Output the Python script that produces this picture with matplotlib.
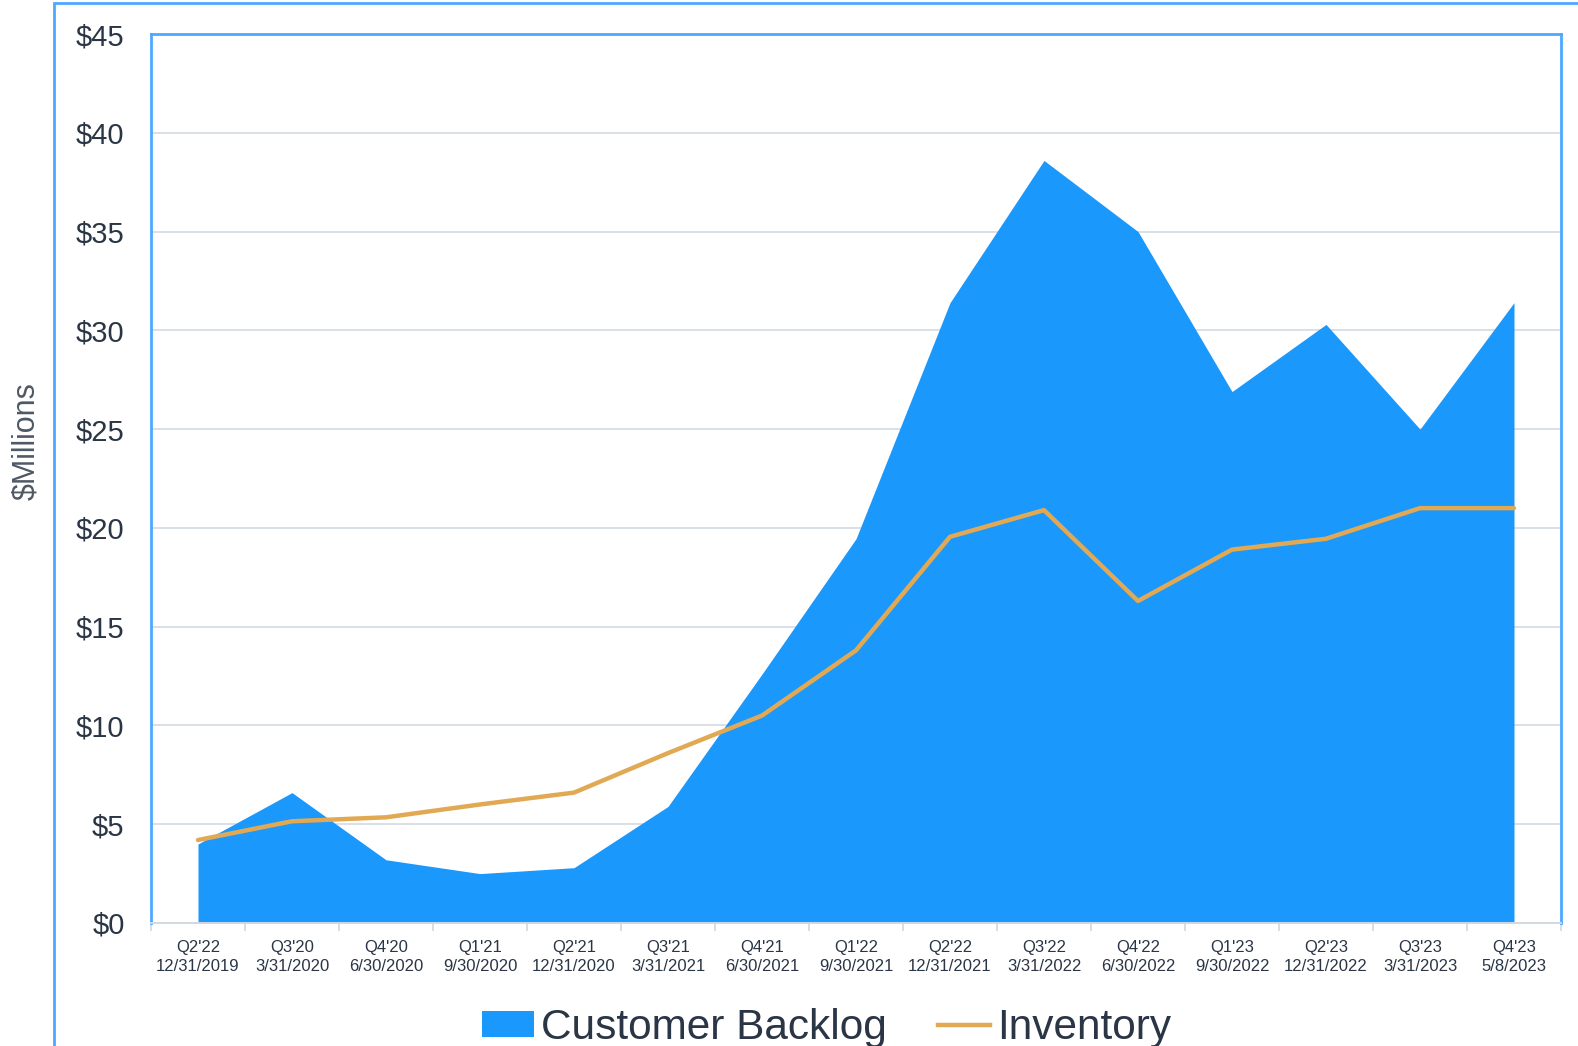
import matplotlib
matplotlib.use("Agg")
import matplotlib.pyplot as plt
from matplotlib.patches import Rectangle, Patch
from matplotlib.lines import Line2D

plt.rcParams['font.family'] = ['Liberation Sans', 'DejaVu Sans']

quarters = ["Q2'22", "Q3'20", "Q4'20", "Q1'21", "Q2'21", "Q3'21", "Q4'21", "Q1'22",
            "Q2'22", "Q3'22", "Q4'22", "Q1'23", "Q2'23", "Q3'23", "Q4'23"]
dates = ["12/31/2019", "3/31/2020", "6/30/2020", "9/30/2020", "12/31/2020", "3/31/2021",
         "6/30/2021", "9/30/2021", "12/31/2021", "3/31/2022", "6/30/2022", "9/30/2022",
         "12/31/2022", "3/31/2023", "5/8/2023"]
backlog = [4.0, 6.6, 3.2, 2.5, 2.8, 5.9, 12.6, 19.45, 31.4, 38.6, 35.0, 26.9, 30.3, 25.0, 31.4]
inventory = [4.2, 5.15, 5.35, 6.0, 6.6, 8.6, 10.5, 13.8, 19.55, 20.9, 16.3, 18.9, 19.45, 21.0, 21.0]
yticks = [0, 5, 10, 15, 20, 25, 30, 35, 40, 45]

blue = '#1a98fc'
orange = '#e2a955'
border = '#4da8ff'
textc = '#2a3545'

fig = plt.figure(figsize=(15.78, 10.46), dpi=100)
ax = fig.add_axes([151/1578, 123/1046, (1561-151)/1578, (923-34)/1046])

x = list(range(len(quarters)))
ax.fill_between(x, 0, backlog, color=blue, linewidth=0, zorder=2)
ax.plot(x, inventory, color=orange, linewidth=3.2, zorder=3, solid_capstyle='round')

ax.set_xlim(-0.5, len(quarters) - 0.5)
ax.set_ylim(0, 45)
ax.set_yticks(yticks)
ax.set_yticklabels([f"${v}" for v in yticks], fontsize=21, color=textc)
ax.set_xticks(x)
ax.set_xticklabels([f"{q}\n{d}" for q, d in zip(quarters, dates)], fontsize=12, color=textc,
                   linespacing=1.4)
ax.set_xticks([i + 0.5 for i in range(-1, len(quarters))], minor=True)
ax.tick_params(axis='x', which='major', length=0, pad=12)
ax.tick_params(axis='x', which='minor', length=6, color='#d0d8e2', width=1.2)
ax.tick_params(axis='y', length=0, pad=19)
for v in yticks[1:]:
    ax.axhline(v, color='#d8e0ea', linewidth=1.4, zorder=1)

for s in ['left', 'top', 'right']:
    ax.spines[s].set_color(border)
    ax.spines[s].set_linewidth(2)
ax.spines['bottom'].set_color('#d0d8e2')
ax.spines['bottom'].set_linewidth(1.4)

fig.text(26/1578, 1 - 441/1046, '$Millions', rotation=90, ha='center', va='center',
         fontsize=22, color='#4e5966')

fig.patches.append(Rectangle((54/1578, -0.05), 1.2, 1 - 3/1046 + 0.05, transform=fig.transFigure,
                             fill=False, edgecolor=border, linewidth=2))

handles = [Patch(facecolor=blue, edgecolor='none'),
           Line2D([0], [0], color=orange, linewidth=3.2)]
fig.legend(handles, ['Customer Backlog', 'Inventory'], loc='center', bbox_to_anchor=(0.5236, 0.017),
           ncol=2, frameon=False, fontsize=30.5, handlelength=1.25, handleheight=0.55,
           handletextpad=0.15, columnspacing=1.2, labelcolor=textc, borderpad=0)

fig.savefig('out.png', dpi=100)
